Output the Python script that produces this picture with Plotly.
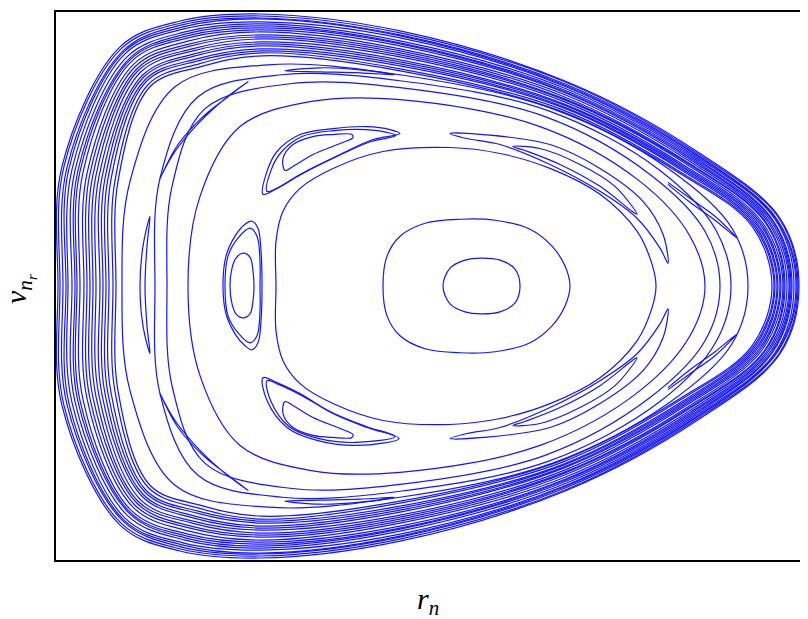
import plotly.graph_objects as go

# Poincaré section (r_n, v_nr); coordinates
# outer chaotic band, outermost to innermost
band0_x = [799, 780, 697, 567, 400, 260, 180, 120, 62, 58, 62, 120, 180, 260, 400, 567, 697, 780, 799]
band0_v = [0, 68, 135, 205, 256, 273, 266, 240, 120, 0, -120, -240, -266, -273, -256, -205, -135, -68, 0]
band1_x = [798, 779, 696, 567, 400, 260, 181, 121, 64, 60, 64, 121, 181, 260, 400, 567, 696, 779, 798]
band1_v = [0, 68, 134, 204, 254, 271, 264, 238, 120, 0, -120, -238, -264, -271, -254, -204, -134, -68, 0]
band2_x = [797, 777, 695, 567, 400, 260, 182, 123, 67, 63, 67, 123, 182, 260, 400, 567, 695, 777, 797]
band2_v = [0, 67, 133, 202, 252, 269, 262, 236, 119, 0, -119, -236, -262, -269, -252, -202, -133, -67, 0]
band3_x = [796, 776, 695, 566, 400, 260, 183, 124, 69, 66, 69, 124, 183, 260, 400, 566, 695, 776, 796]
band3_v = [0, 67, 132, 201, 251, 268, 260, 235, 118, 0, -118, -235, -260, -268, -251, -201, -132, -67, 0]
band4_x = [794, 775, 694, 566, 400, 260, 184, 125, 72, 68, 72, 125, 184, 260, 400, 566, 694, 775, 794]
band4_v = [0, 67, 131, 200, 249, 265, 258, 233, 117, 0, -117, -233, -258, -265, -249, -200, -131, -67, 0]
band5_x = [792, 773, 693, 566, 400, 260, 185, 127, 75, 72, 75, 127, 185, 260, 400, 566, 693, 773, 792]
band5_v = [0, 66, 130, 198, 246, 263, 255, 230, 116, 0, -116, -230, -255, -263, -246, -198, -130, -66, 0]
band6_x = [791, 772, 692, 566, 400, 261, 186, 129, 78, 75, 78, 129, 186, 261, 400, 566, 692, 772, 791]
band6_v = [0, 66, 129, 196, 244, 261, 253, 228, 116, 0, -116, -228, -253, -261, -244, -196, -129, -66, 0]
band7_x = [790, 771, 691, 565, 400, 261, 187, 130, 80, 77, 80, 130, 187, 261, 400, 565, 691, 771, 790]
band7_v = [0, 65, 128, 195, 243, 259, 251, 227, 115, 0, -115, -227, -251, -259, -243, -195, -128, -65, 0]
band8_x = [789, 769, 690, 565, 400, 261, 188, 131, 83, 80, 83, 131, 188, 261, 400, 565, 690, 769, 789]
band8_v = [0, 65, 127, 194, 241, 257, 249, 225, 114, 0, -114, -225, -249, -257, -241, -194, -127, -65, 0]
band9_x = [787, 768, 690, 565, 400, 261, 189, 133, 87, 84, 87, 133, 189, 261, 400, 565, 690, 768, 787]
band9_v = [0, 64, 125, 192, 238, 255, 246, 222, 113, 0, -113, -222, -246, -255, -238, -192, -125, -64, 0]
band10_x = [785, 766, 688, 564, 400, 261, 190, 135, 90, 87, 90, 135, 190, 261, 400, 564, 688, 766, 785]
band10_v = [0, 64, 124, 190, 236, 252, 243, 220, 113, 0, -113, -220, -243, -252, -236, -190, -124, -64, 0]
band11_x = [784, 765, 688, 564, 400, 261, 191, 137, 93, 90, 93, 137, 191, 261, 400, 564, 688, 765, 784]
band11_v = [0, 64, 123, 188, 234, 250, 241, 218, 112, 0, -112, -218, -241, -250, -234, -188, -123, -64, 0]
band12_x = [783, 763, 687, 564, 400, 261, 192, 138, 96, 93, 96, 138, 192, 261, 400, 564, 687, 763, 783]
band12_v = [0, 63, 122, 187, 232, 248, 238, 216, 111, 0, -111, -216, -238, -248, -232, -187, -122, -63, 0]
band13_x = [781, 761, 686, 564, 400, 261, 193, 140, 99, 96, 99, 140, 193, 261, 400, 564, 686, 761, 781]
band13_v = [0, 63, 120, 185, 230, 245, 236, 214, 110, 0, -110, -214, -236, -245, -230, -185, -120, -63, 0]
band14_x = [780, 760, 685, 563, 400, 261, 194, 142, 102, 100, 102, 142, 194, 261, 400, 563, 685, 760, 780]
band14_v = [0, 62, 119, 183, 227, 243, 233, 211, 109, 0, -109, -211, -233, -243, -227, -183, -119, -62, 0]
band15_x = [778, 758, 684, 563, 400, 262, 195, 143, 105, 103, 105, 143, 195, 262, 400, 563, 684, 758, 778]
band15_v = [0, 62, 118, 182, 225, 241, 231, 209, 108, 0, -108, -209, -231, -241, -225, -182, -118, -62, 0]
band16_x = [777, 757, 683, 563, 400, 262, 197, 145, 108, 106, 108, 145, 197, 262, 400, 563, 683, 757, 777]
band16_v = [0, 61, 117, 180, 223, 238, 228, 207, 108, 0, -108, -207, -228, -238, -223, -180, -117, -61, 0]
band17_x = [775, 755, 682, 563, 400, 262, 198, 146, 111, 109, 111, 146, 198, 262, 400, 563, 682, 755, 775]
band17_v = [0, 61, 116, 179, 221, 236, 226, 205, 107, 0, -107, -205, -226, -236, -221, -179, -116, -61, 0]
band18_x = [774, 754, 681, 562, 400, 262, 199, 148, 115, 113, 115, 148, 199, 262, 400, 562, 681, 754, 774]
band18_v = [0, 60, 114, 177, 218, 234, 223, 202, 106, 0, -106, -202, -223, -234, -218, -177, -114, -60, 0]
band19_x = [772, 752, 680, 562, 400, 262, 200, 150, 118, 116, 118, 150, 200, 262, 400, 562, 680, 752, 772]
band19_v = [0, 60, 113, 175, 216, 231, 220, 200, 105, 0, -105, -200, -220, -231, -216, -175, -113, -60, 0]

# regular tori between the band and the island chain
ringE_x = [748, 732, 668, 552, 400, 268, 175, 130, 122, 130, 175, 268, 400, 552, 668, 732, 748]
ringE_v = [0, 58, 118, 178, 212, 222, 200, 105, 0, -105, -200, -222, -212, -178, -118, -58, 0]
ringC_x = [731, 716, 660, 548, 400, 282, 198, 160, 155, 160, 198, 282, 400, 548, 660, 716, 731]
ringC_v = [0, 56, 116, 176, 206, 212, 190, 108, 0, -108, -190, -212, -206, -176, -116, -56, 0]
ringB_x = [720, 705, 650, 545, 400, 290, 205, 172, 167, 172, 205, 290, 400, 545, 650, 705, 720]
ringB_v = [0, 55, 112, 170, 199, 203, 178, 100, 0, -100, -178, -203, -199, -170, -112, -55, 0]
ringA_x = [705, 690, 640, 540, 400, 310, 240, 200, 188, 200, 240, 310, 400, 540, 640, 690, 705]
ringA_v = [0, 50, 105, 160, 187, 185, 160, 90, 0, -90, -160, -185, -187, -160, -105, -50, 0]

# thin secondary islands of the outer chain
sec_left_x = [150, 143, 140, 143, 150, 147, 145, 147, 150]
sec_left_v = [70, 40, 0, -40, -68, -40, 0, 40, 70]
sec_ul_x = [160, 175, 200, 225, 248, 228, 203, 178, 162]
sec_ul_v = [108, 135, 165, 188, 205, 190, 170, 142, 112]
sec_ll_x = [160, 175, 200, 225, 248, 228, 203, 178, 162]
sec_ll_v = [-108, -135, -165, -188, -205, -190, -170, -142, -112]
sec_top_x = [285, 320, 360, 395, 360, 320, 285]
sec_top_v = [216, 219, 217, 212, 214, 215, 216]
sec_bot_x = [285, 320, 360, 395, 360, 320, 285]
sec_bot_v = [-216, -219, -217, -212, -214, -215, -216]
sec_ur_x = [668, 690, 715, 737, 715, 690, 668]
sec_ur_v = [104, 88, 70, 48, 66, 84, 102]
sec_lr_x = [668, 690, 715, 737, 715, 690, 668]
sec_lr_v = [-104, -88, -70, -48, -66, -84, -102]

# last big torus around the centre
tri_x = [656, 652, 637, 600, 550, 500, 450, 383, 333, 300, 283, 276, 276, 276, 283, 300, 333, 383, 450, 500, 550, 600, 637, 652, 656]
tri_v = [0, 22, 55, 92, 118, 133, 139, 135, 118, 98, 75, 45, 0, -45, -75, -98, -118, -135, -139, -133, -118, -92, -55, -22, 0]

# central tori
egg_x = [383, 387, 400, 425, 460, 495, 530, 552, 565, 570, 565, 552, 530, 495, 460, 425, 400, 387, 383]
egg_v = [0, 30, 50, 63, 67, 66, 57, 40, 20, 0, -20, -40, -57, -66, -67, -63, -50, -30, 0]
core_x = [443, 450, 465, 481, 500, 515, 520, 515, 500, 481, 465, 450, 443]
core_v = [0, 18, 26, 28, 26, 17, 0, -17, -26, -28, -26, -18, 0]

# five-island chain: upper-left
ul_out_x = [263, 267, 277, 300, 333, 367, 390, 400, 373, 340, 300, 277, 263]
ul_out_v = [92, 115, 135, 152, 158, 160, 157, 153, 147, 132, 112, 98, 92]
ul_mid_x = [267, 271, 281, 302, 334, 366, 388, 396, 371, 339, 301, 279, 267]
ul_mid_v = [95, 116, 134, 150, 156, 157, 154, 151, 145, 131, 112, 99, 95]
ul_in_x = [285, 283, 293, 313, 333, 352, 353, 340, 313, 293, 285]
ul_in_v = [116, 128, 142, 150, 152, 152, 149, 143, 132, 120, 116]
# lower-left
ll_out_x = [263, 267, 287, 317, 357, 399, 367, 333, 300, 277, 263]
ll_out_v = [-92, -115, -142, -155, -160, -153, -142, -128, -108, -97, -92]
ll_mid_x = [267, 271, 289, 318, 356, 395, 366, 332, 300, 279, 267]
ll_mid_v = [-95, -116, -141, -153, -157, -151, -141, -127, -109, -99, -95]
ll_in_x = [285, 283, 293, 313, 333, 352, 353, 340, 313, 293, 285]
ll_in_v = [-116, -128, -142, -150, -152, -152, -149, -143, -132, -120, -116]
# left
l_out_x = [223, 226, 235, 245, 252, 258, 261, 262, 261, 258, 252, 245, 235, 226, 223]
l_out_v = [0, 30, 50, 62, 65, 58, 35, 0, -35, -57, -64, -60, -48, -28, 0]
l_mid_x = [225, 228, 238, 250, 257, 260, 260, 260, 257, 250, 238, 228, 225]
l_mid_v = [0, 30, 48, 58, 50, 25, 0, -25, -50, -57, -47, -30, 0]
l_in_x = [230, 232, 236, 243, 250, 253, 254, 253, 250, 243, 236, 232, 230]
l_in_v = [0, 18, 28, 33, 29, 15, 0, -15, -28, -32, -28, -18, 0]
# upper-right
ur_out_x = [450, 483, 550, 600, 643, 663, 668, 660, 637, 600, 550, 500, 467, 450]
ur_out_v = [153, 152, 142, 118, 85, 52, 23, 38, 68, 95, 122, 142, 148, 153]
ur_in_x = [513, 540, 580, 615, 637, 632, 600, 560, 525, 513]
ur_in_v = [140, 138, 122, 100, 72, 75, 100, 122, 136, 140]
# lower-right
lr_out_x = [450, 483, 550, 600, 643, 663, 668, 660, 637, 600, 550, 500, 467, 450]
lr_out_v = [-153, -152, -142, -118, -85, -52, -23, -38, -68, -95, -122, -142, -148, -153]
lr_in_x = [513, 540, 580, 615, 637, 632, 600, 560, 525, 513]
lr_in_v = [-140, -138, -122, -100, -72, -75, -100, -122, -136, -140]

curves = [
    (band0_x, band0_v), (band1_x, band1_v), (band2_x, band2_v), (band3_x, band3_v),
    (band4_x, band4_v), (band5_x, band5_v), (band6_x, band6_v), (band7_x, band7_v),
    (band8_x, band8_v), (band9_x, band9_v), (band10_x, band10_v), (band11_x, band11_v),
    (band12_x, band12_v), (band13_x, band13_v), (band14_x, band14_v), (band15_x, band15_v),
    (band16_x, band16_v), (band17_x, band17_v), (band18_x, band18_v), (band19_x, band19_v),
    (ringE_x, ringE_v), (ringC_x, ringC_v), (ringB_x, ringB_v), (ringA_x, ringA_v),
    (sec_left_x, sec_left_v), (sec_ul_x, sec_ul_v), (sec_ll_x, sec_ll_v),
    (sec_top_x, sec_top_v), (sec_bot_x, sec_bot_v), (sec_ur_x, sec_ur_v), (sec_lr_x, sec_lr_v),
    (tri_x, tri_v), (egg_x, egg_v), (core_x, core_v),
    (ul_out_x, ul_out_v), (ul_mid_x, ul_mid_v), (ul_in_x, ul_in_v),
    (ll_out_x, ll_out_v), (ll_mid_x, ll_mid_v), (ll_in_x, ll_in_v),
    (l_out_x, l_out_v), (l_mid_x, l_mid_v), (l_in_x, l_in_v),
    (ur_out_x, ur_out_v), (ur_in_x, ur_in_v),
    (lr_out_x, lr_out_v), (lr_in_x, lr_in_v),
]

fig = go.Figure()
for cx, cv in curves:
    fig.add_trace(go.Scatter(
        x=cx, y=cv, mode="lines",
        line=dict(color="#1414ff", width=1.2, shape="spline", smoothing=1.0),
        showlegend=False, hoverinfo="skip",
    ))

axis_style = dict(showgrid=False, zeroline=False, showticklabels=False, ticks="",
                  showline=True, linecolor="black", linewidth=2, mirror=True)
fig.update_xaxes(range=[56, 802], **axis_style)
fig.update_yaxes(range=[-275, 275], **axis_style)

fig.update_layout(
    width=800, height=611,
    margin=dict(l=48, r=6, t=2, b=59),
    plot_bgcolor="white", paper_bgcolor="white",
    font=dict(family="Liberation Serif, Times New Roman, serif", color="black"),
    annotations=[
        dict(text="<i>r</i><sub><i>n</i></sub>", xref="paper", yref="paper",
             x=0.4987, y=-0.0745, xanchor="center", yanchor="middle",
             showarrow=False, font=dict(size=30)),
        dict(text="<i>v</i><sub><i>n</i></sub>", xref="paper", yref="paper",
             x=-0.0509, y=0.4891, xanchor="center", yanchor="middle",
             showarrow=False, textangle=-90, font=dict(size=30)),
        dict(text="<i>r</i>", xref="paper", yref="paper",
             x=-0.0322, y=0.5164, xanchor="center", yanchor="middle",
             showarrow=False, textangle=-90, font=dict(size=15)),
    ],
)

fig.write_html("out.html")
